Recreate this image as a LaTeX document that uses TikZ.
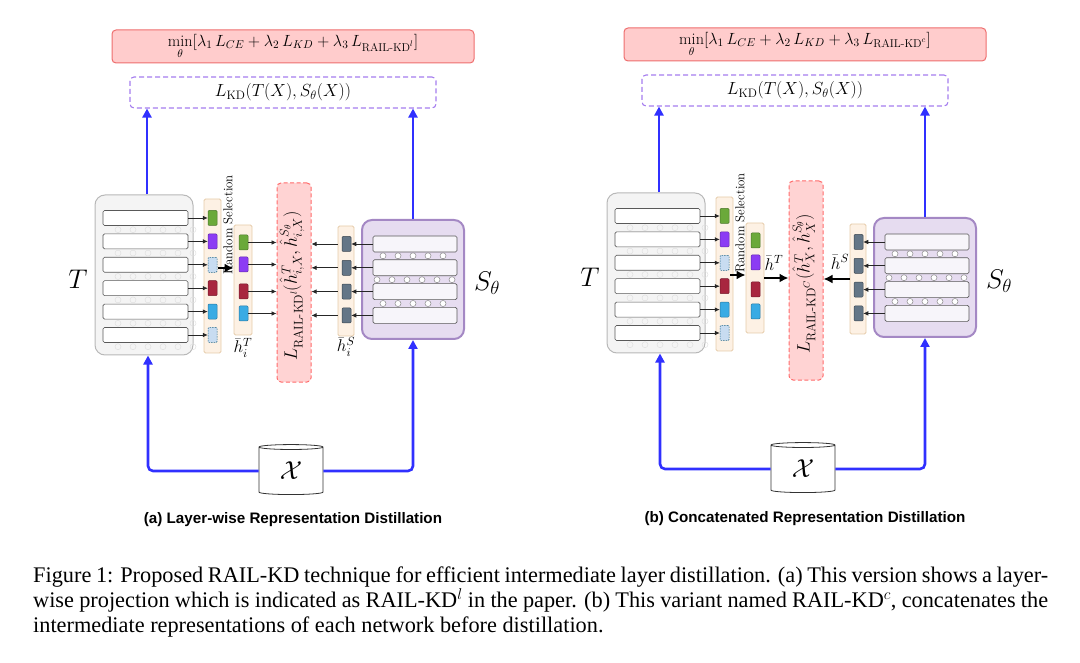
\documentclass[tikz,border=0pt]{standalone}
\usepackage{fix-cm}
\usepackage{fontspec}
\usepackage{amsmath}
\usetikzlibrary{positioning}
\usetikzlibrary{arrows.meta,shapes.geometric}
\newfontfamily\capfont{Liberation Serif}
\newfontfamily\subfont{Liberation Sans}
\definecolor{lossfill}{HTML}{FFCCCC}
\definecolor{lossdraw}{HTML}{EE6E6E}
\definecolor{kddraw}{HTML}{A47CEE}
\definecolor{flowblue}{HTML}{3030FF}
\definecolor{tfill}{HTML}{F4F4F4}
\definecolor{tdraw}{HTML}{B8B8B8}
\definecolor{selfill}{HTML}{FDF1E4}
\definecolor{seldraw}{HTML}{E6CCAA}
\definecolor{railfill}{HTML}{FFD3D3}
\definecolor{raildraw}{HTML}{FF6B6B}
\definecolor{sfill}{HTML}{E6DCF0}
\definecolor{sdraw}{HTML}{A488C4}
\definecolor{srow}{HTML}{F7F5FA}
\definecolor{cgreen}{HTML}{6BA93A}
\definecolor{cpurple}{HTML}{8C3CF4}
\definecolor{cred}{HTML}{A8263F}
\definecolor{cblue}{HTML}{3AABE4}
\definecolor{cpale}{HTML}{C8DCF1}
\definecolor{cslate}{HTML}{647687}
\tikzset{
	lossbox/.style={rectangle, draw=lossdraw, fill=lossfill, rounded corners=4pt, line width=1pt, minimum width=362pt, minimum height=33pt, inner sep=0pt, font=\fontsize{16.2}{18}\selectfont},
	kdbox/.style={rectangle, draw=kddraw, dash pattern=on 5pt off 3pt, rounded corners=4pt, line width=1.1pt, minimum width=306pt, minimum height=31pt, inner sep=0pt, font=\fontsize{17.5}{19}\selectfont},
	teacherbox/.style={rectangle, draw=tdraw, fill=tfill, rounded corners=10pt, line width=1pt, minimum width=98pt, minimum height=160pt},
	studentbox/.style={rectangle, draw=sdraw, fill=sfill, rounded corners=10pt, line width=2pt, minimum width=102pt, minimum height=119pt},
	layerbox/.style={rectangle, draw=black!65, fill=white, rounded corners=1.5pt, line width=0.6pt, minimum width=85pt, minimum height=15pt, inner sep=0pt},
	selcol/.style={rectangle, draw=seldraw, fill=selfill, rounded corners=1.5pt, line width=0.8pt, minimum width=17pt, minimum height=154pt, inner sep=0pt},
	vecbox/.style={rectangle, rounded corners=1pt, minimum width=9pt, minimum height=15pt, inner sep=0pt, line width=0.5pt},
	vgreen/.style={fill=cgreen, draw=cgreen!70!black},
	vpurple/.style={fill=cpurple, draw=cpurple!70!black},
	vred/.style={fill=cred, draw=cred!70!black},
	vblue/.style={fill=cblue, draw=cblue!70!black},
	vdash/.style={fill=cpale, draw=cblue!60!black, dash pattern=on 1.5pt off 1pt},
	vslate/.style={fill=cslate, draw=cslate!60!black},
	railbox/.style={rectangle, draw=raildraw, fill=railfill, dash pattern=on 4pt off 2.5pt, rounded corners=4pt, line width=1pt, minimum width=34pt, minimum height=199pt, inner sep=0pt},
	db/.style={cylinder, shape border rotate=90, aspect=0.22, draw=black!80, fill=white, line width=0.8pt, minimum width=64pt, minimum height=50pt, inner sep=0pt, font=\fontsize{26}{28}\selectfont},
	neuron/.style={circle, draw=black!45, fill=white, line width=0.5pt, minimum size=6pt, inner sep=0pt},
	faint/.style={draw=black!12, line width=0.5pt},
	flow/.style={draw=flowblue, line width=2.6pt, rounded corners=5pt, -{Triangle[length=9pt,width=9pt]}},
	thinarr/.style={draw=black!85, line width=0.6pt, -{Latex[length=5pt,width=4.5pt]}},
	boldarr/.style={draw=black, line width=2.4pt, -{Latex[length=9pt,width=9pt]}},
	biglab/.style={font=\fontsize{27}{30}\selectfont},
	veclab/.style={inner sep=0pt, font=\fontsize{17}{19}\selectfont},
	railtext/.style={rotate=90, inner sep=0pt, font=\fontsize{18}{20}\selectfont},
	subcap/.style={font=\subfont\bfseries\fontsize{15.2}{17}\selectfont}
}

\begin{document}
\begin{tikzpicture}[x=1pt, y=-1pt]
	\useasboundingbox (0,0) rectangle (1080,663);
	% both panels
	\foreach \p/\dx/\dy/\kd/\ry in {a/0/0/l/268, b/512/-2/c/277} {
		\begin{scope}[shift={(\dx,\dy)}]
			\node[lossbox] (\p loss) at (293,46.5) {$\min\limits_{\theta}[\lambda_1\,L_{CE}+\lambda_2\,L_{KD}+\lambda_3\,L_{\mathrm{RAIL\text{-}KD}^{\kd}}]$};
			\node[kdbox] (\p kd) at (283,92.5) {$L_{\mathrm{KD}}(T(X),S_\theta(X))$};
			
			% teacher
			\node[teacherbox] (\p T) at (144,275) {};
			\node[biglab] (\p Tlab) at (78,279) {$T$};
			\node[selcol] (\p sel) at (212.5,276) {};
			\foreach \i/\c in {1/vgreen,2/vpurple,3/vdash,4/vred,5/vblue,6/vdash} {
				\node[layerbox] (\p tl\i) at (145.5,{218+23.4*(\i-1)}) {};
				\node[vecbox,\c] (\p sv\i) at (212.5,{218+23.4*(\i-1)}) {};
				\draw[thinarr] (\p tl\i) -- (\p sv\i);
			}
			\foreach \r in {0,...,5}
				\foreach \k in {0,...,5}
					\draw[faint] ({118+15*\k},{229.7+23.4*\r}) circle (3);
			\node[rotate=90, inner sep=0pt, font=\fontsize{12.9}{14}\selectfont] (\p rnd) at (228,225) {Random Selection};
			\node[selcol, minimum width=18pt, minimum height=110pt] (\p hT) at (243,280) {};
			\foreach \i/\c/\yy in {1/vgreen/242.5,2/vpurple/264.5,3/vred/291.5,4/vblue/313.5}
				\node[vecbox,\c] (\p tv\i) at (243.5,\yy) {};
			\coordinate (\p rs) at ([xshift=-3pt]\p sel.east |- 0,\ry);
			\draw[boldarr] (\p rs) -- (\p rs -| \p hT.west);
			
			% middle
			\node[railbox] (\p rail) at (294,282.5) {};
			
			% student
			\node[studentbox] (\p S) at (413,279.5) {};
			\node[biglab] (\p Slab) at (487,283) {$S_\theta$};
			\node[selcol, minimum width=16pt, minimum height=110pt] (\p hS) at (346,281) {};
			\foreach \i in {1,...,4} {
				\node[layerbox, minimum width=84pt, minimum height=16pt, fill=srow] (\p sl\i) at (415,{244+23.8*(\i-1)}) {};
				\node[vecbox,vslate] (\p ss\i) at (346.5,{244+23.8*(\i-1)}) {};
				\draw[thinarr] (\p sl\i) -- (\p ss\i);
			}
			\foreach \k in {0,...,4} {
				\node[neuron] at ({383+15*\k},255.8) {};
				\node[neuron] at ({383+15*\k},303.5) {};
			}
			\foreach \k in {0,...,5}
				\node[neuron] at ({377+15*\k},279.7) {};
			
			% data
			\node[db] (\p X) at (291,471) {$\mathcal{X}$};
			\draw[flow] (\p X.west) -| ([xshift=4pt]\p T.south);
			\draw[flow] (\p X.east) -| (\p S.south);
			\draw[flow] ([xshift=3pt]\p T.north) -- ([xshift=3pt]\p T.north |- \p kd.south);
			\draw[flow] (\p S.north) -- (\p S.north |- \p kd.south);
		\end{scope}
	}
	
	% (a) layer-wise
	\foreach \i in {1,...,4} {
		\draw[thinarr] (atv\i) -- (atv\i -| arail.west);
		\draw[thinarr] (ahS.west |- ass\i) -- (ass\i -| arail.east);
	}
	\node[veclab] (ahTlab) at (243,348) {$\bar{h}_i^T$};
	\node[veclab] (ahSlab) at (346,347) {$\bar{h}_i^S$};
	\node[railtext] (arailtxt) at (292,286) {$L_{\mathrm{RAIL\text{-}KD}^{l}}(\hat{h}^{T}_{i,X},\hat{h}^{S_\theta}_{i,X})$};
	\node[subcap] (acap) at (293,520) {(a) Layer-wise Representation Distillation};
	
	% (b) concatenated
	\draw[boldarr] (bhT) -- (bhT -| brail.west);
	\draw[boldarr] (bhS) -- (bhS -| brail.east);
	\node[veclab] (bhTlab) at (774,263) {$\bar{h}^T$};
	\node[veclab] (bhSlab) at (840,262) {$\bar{h}^S$};
	\node[railtext] (brailtxt) at (804,284) {$L_{\mathrm{RAIL\text{-}KD}^{C}}(\hat{h}^{T}_{X},\hat{h}^{S_\theta}_{X})$};
	\node[subcap] (bcap) at (805,519) {(b) Concatenated Representation Distillation};
	
	% caption
	\node[anchor=north west, inner sep=0pt, align=left, font=\capfont\fontsize{22.3}{25}\selectfont] (fig) at (33,567) {%
		\makebox[1015pt][s]{Figure 1: Proposed RAIL-KD technique for efficient intermediate layer distillation. (a) This version shows a layer-}\\
		\makebox[1015pt][s]{wise projection which is indicated as RAIL-KD$^l$ in the paper. (b) This variant named RAIL-KD$^c$, concatenates the}\\
		intermediate representations of each network before distillation.};
\end{tikzpicture}
\end{document}
